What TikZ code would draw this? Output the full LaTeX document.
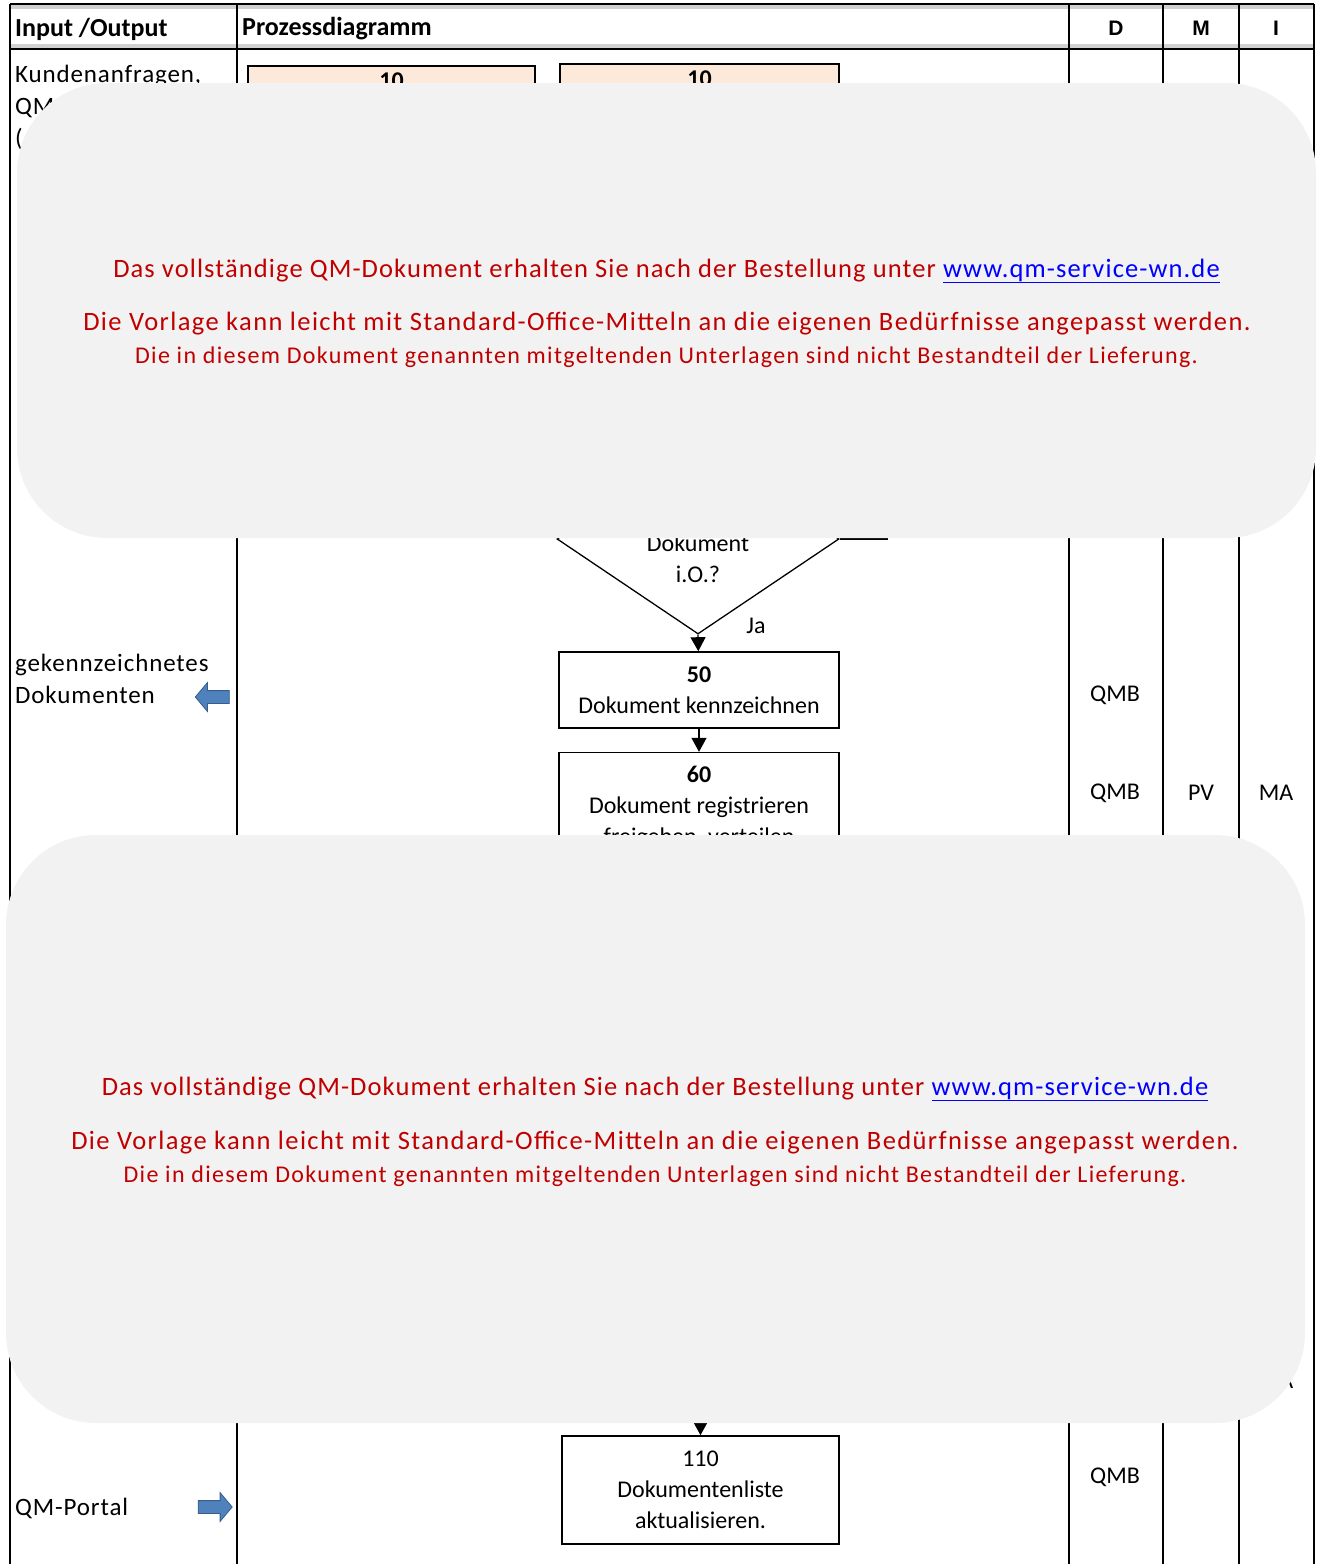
\documentclass[tikz,border=0pt]{standalone}
\usepackage{fontspec}
\setmainfont{Carlito}
\newfontfamily\kopffont{Liberation Sans}
\usetikzlibrary{arrows.meta,positioning,shapes.geometric,shapes.arrows}

\definecolor{peach}{HTML}{FDE9D9}
\definecolor{hinweisrot}{HTML}{C00000}
\definecolor{hinweisgrau}{HTML}{F2F2F2}
\definecolor{pfeilblau}{HTML}{4F81BD}
\definecolor{pfeilrand}{HTML}{385D8A}

\begin{document}
\begin{tikzpicture}[
    x=1pt, y=-1pt,
    txt/.style={font=\fontsize{24}{31}\selectfont},
    proc/.style={rectangle, draw, line width=1.6pt, minimum width=280pt, align=center, inner sep=2pt, txt},
    start/.style={proc, fill=peach, minimum height=100pt},
    entscheid/.style={diamond, draw, line width=1.3pt, minimum width=282pt, minimum height=190pt, inner sep=0pt},
    flow/.style={-{Triangle[length=14pt, width=15pt]}, line width=1.3pt},
    io/.style={anchor=west, align=left, inner xsep=2pt, font=\fontsize{25}{32}\selectfont\addfontfeature{LetterSpace=3.5}},
    rolle/.style={txt},
    kopf/.style={anchor=west, inner xsep=3pt, font=\fontsize{26}{30}\selectfont\bfseries},
    spalte/.style={font=\kopffont\fontsize{21}{25}\selectfont\bfseries},
    tabline/.style={line width=1.8pt},
    pfeil/.style={single arrow, draw=pfeilrand, fill=pfeilblau, line width=0.8pt, minimum height=34pt, inner xsep=0pt, inner ysep=6pt, single arrow head extend=8pt, single arrow tip angle=100},
    hinweis/.style={rectangle, fill=hinweisgrau, minimum width=1299pt, rounded corners=90pt},
    rot/.style={text=hinweisrot, anchor=base, font=\fontsize{26.5}{30}\selectfont\addfontfeature{LetterSpace=4.2}},
    rotbreit/.style={rot, font=\fontsize{26.5}{30}\selectfont\addfontfeature{LetterSpace=5.3}},
    rotklein/.style={rot, font=\fontsize{24}{27}\selectfont\addfontfeature{LetterSpace=5.5}},
]
    \useasboundingbox (0,0) rectangle (1318,1564);

    % Tabelle
    \fill[black!18] (10,5) rectangle (1314,9);
    \fill[black!18] (10,44) rectangle (1314,48);
    \draw[tabline] (10,4) -- (1314,4);
    \draw[tabline] (10,49) -- (1314,49);
    \foreach \x in {10,237,1069,1163,1239,1314}
        \draw[tabline] (\x,4) -- (\x,1564);

    \node[kopf] (kopfio) at (12,29) {Input /Output};
    \node[kopf] (kopfproz) at (239,29) {Prozessdiagramm};
    \node[spalte] (kopfd) at (1116,28) {D};
    \node[spalte] (kopfm) at (1201,28) {M};
    \node[spalte] (kopfi) at (1276,28) {I};

    % Input / Output
    \node[io] (eingang) at (13,108) {Kundenanfragen,\\QM\\(};
    \node[io] (kennz) at (13,679) {gekennzeichnetes\\Dokumenten};
    \node[io] (portal) at (13,1508) {QM-Portal};
    \node[pfeil, shape border rotate=180] (pfeilaus) at (215,697) {};
    \node[pfeil] (pfeilein) at (212.5,1507) {};

    % Prozess
    \node[start, minimum width=287pt, label={[txt, anchor=north, yshift=-4pt]north:\textbf{10}}] (s10a) at (391.5,116) {};
    \node[start, minimum width=279pt, label={[txt, anchor=north, yshift=-4pt]north:\textbf{10}}] (s10b) at (699.5,114) {};

    \node[entscheid] (raute) at (698,539) {};
    \node[txt, align=center] (rautetext) at (698,559) {Dokument\\i.O.?};
    \coordinate (nein) at (888,539);
    \draw[line width=1.3pt] (raute.east) -- (nein);
    \node[txt] (ja) at (756,626) {Ja};

    \node[proc, minimum height=76pt] (b50) at (699,690) {\textbf{50}\\Dokument kennzeichnen};
    \node[proc, minimum height=110pt, below=23pt of b50] (b60) {\textbf{60}\\Dokument registrieren\\freigeben, verteilen};
    \draw[flow] (raute.south) -- (b50);
    \draw[flow] (b50) -- (b60);

    \coordinate (vor110) at (700.5,1400);
    \node[proc, minimum width=277pt, minimum height=108pt] (b110) at (700.5,1490) {110\\Dokumentenliste\\aktualisieren.};
    \draw[flow] (vor110) -- (b110);

    % Verantwortung
    \node[rolle] (r50d) at (1115,695) {QMB};
    \node[rolle] (r60d) at (1115,793) {QMB};
    \node[rolle] (r60m) at (1201,793) {PV};
    \node[rolle] (r60i) at (1276,793) {MA};
    \node[rolle] (r100i) at (1276,1381) {MA};
    \node[rolle] (r110d) at (1115,1477) {QMB};

    % Hinweise
    \node[hinweis, minimum height=455pt] (hinweisoben) at (666.5,310.5) {};
    \node[rot] (oben1) at (666.5,277) {Das vollständige QM-Dokument erhalten Sie nach der Bestellung unter \textcolor{blue}{\underline{www.qm-service-wn.de}}};
    \node[rotbreit] (oben2) at (667,330) {Die Vorlage kann leicht mit Standard-Office-Mitteln an die eigenen Bedürfnisse angepasst werden.};
    \node[rotklein] (oben3) at (666.5,363) {Die in diesem Dokument genannten mitgeltenden Unterlagen sind nicht Bestandteil der Lieferung.};

    \node[hinweis, minimum height=588pt] (hinweisunten) at (655.5,1129) {};
    \node[rot] (unten1) at (655,1095) {Das vollständige QM-Dokument erhalten Sie nach der Bestellung unter \textcolor{blue}{\underline{www.qm-service-wn.de}}};
    \node[rotbreit] (unten2) at (655,1149) {Die Vorlage kann leicht mit Standard-Office-Mitteln an die eigenen Bedürfnisse angepasst werden.};
    \node[rotklein] (unten3) at (655,1182) {Die in diesem Dokument genannten mitgeltenden Unterlagen sind nicht Bestandteil der Lieferung.};
\end{tikzpicture}
\end{document}
